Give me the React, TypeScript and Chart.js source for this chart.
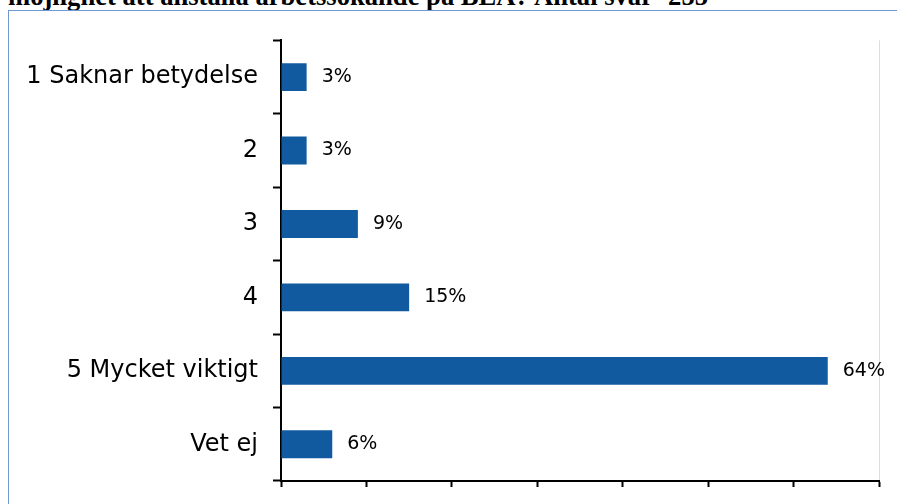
import React, { useEffect, useRef } from "react";
import { Chart, registerables } from "chart.js";

Chart.register(...registerables);

const titleText = "möjlighet att anställa arbetssökande på BEA? Antal svar=255";
const categories = ["1 Saknar betydelse", "2", "3", "4", "5 Mycket viktigt", "Vet ej"];
const values = [3, 3, 9, 15, 64, 6];
const valueLabels = ["3%", "3%", "9%", "15%", "64%", "6%"];
const xMax = 70;
const xStep = 10;

const valueLabelPlugin = {
  id: "valueLabels",
  afterDatasetsDraw(chart: any) {
    const ctx = chart.ctx;
    const meta = chart.getDatasetMeta(0);
    ctx.save();
    ctx.font = "19px 'DejaVu Sans'";
    ctx.fillStyle = "#000";
    ctx.textAlign = "left";
    ctx.textBaseline = "middle";
    meta.data.forEach((el: any, i: number) => {
      ctx.fillText(valueLabels[i], el.x + 15, el.y);
    });
    ctx.restore();
  },
};

function BarChart() {
  const ref = useRef<HTMLCanvasElement | null>(null);
  useEffect(() => {
    if (!ref.current) return;
    const chart = new Chart(ref.current, {
      type: "bar",
      data: {
        labels: categories,
        datasets: [
          {
            data: values,
            backgroundColor: "#115a9f",
            borderWidth: 0,
            barPercentage: 0.38,
            categoryPercentage: 1,
          },
        ],
      },
      plugins: [valueLabelPlugin],
      options: {
        indexAxis: "y",
        animation: false,
        responsive: false,
        maintainAspectRatio: false,
        layout: { padding: { top: 29, right: 18, left: 0, bottom: 0 } },
        plugins: {
          legend: { display: false },
          tooltip: { enabled: false },
          title: { display: false },
        },
        scales: {
          x: {
            min: 0,
            max: xMax,
            ticks: {
              display: false,
              stepSize: xStep,
              maxRotation: 0,
              callback: (v: any) => v + "%",
            },
            grid: {
              drawOnChartArea: true,
              color: (c: any) => (c.index === xMax / xStep ? "#dddddd" : "rgba(0,0,0,0)"),
              lineWidth: 1,
              tickColor: "#000",
              tickWidth: 2,
              tickLength: 6,
            },
            border: { display: true, color: "#000", width: 2 },
            afterFit: (s: any) => {
              s.height = 40;
            },
          },
          y: {
            ticks: {
              font: { family: "DejaVu Sans", size: 24 },
              color: "#000",
              padding: 15,
            },
            grid: {
              drawOnChartArea: false,
              offset: true,
              tickColor: "#000",
              tickWidth: 2,
              tickLength: 8,
            },
            border: { display: true, color: "#000", width: 2 },
            afterFit: (s: any) => {
              s.width = 272;
            },
          },
        },
      },
    });
    return () => chart.destroy();
  }, []);
  return (
    <canvas
      ref={ref}
      width={888}
      height={510}
      style={{ position: "absolute", left: 9, top: 11, width: 888, height: 510 }}
    />
  );
}

export default function App() {
  return (
    <div
      style={{
        position: "fixed",
        left: 0,
        top: 0,
        width: 897,
        height: 504,
        overflow: "hidden",
        background: "#fff",
      }}
    >
      <div
        style={{
          position: "absolute",
          left: 8,
          top: -17,
          whiteSpace: "nowrap",
          fontFamily: "'Liberation Serif', 'Times New Roman', serif",
          fontWeight: "bold",
          fontSize: 26.6,
          lineHeight: "27px",
          color: "#000",
        }}
      >
        {titleText}
      </div>
      <div
        style={{
          position: "absolute",
          left: 8,
          top: 10,
          width: 1000,
          height: 600,
          border: "1px solid #7098d4",
          boxSizing: "border-box",
        }}
      />
      <BarChart />
    </div>
  );
}
